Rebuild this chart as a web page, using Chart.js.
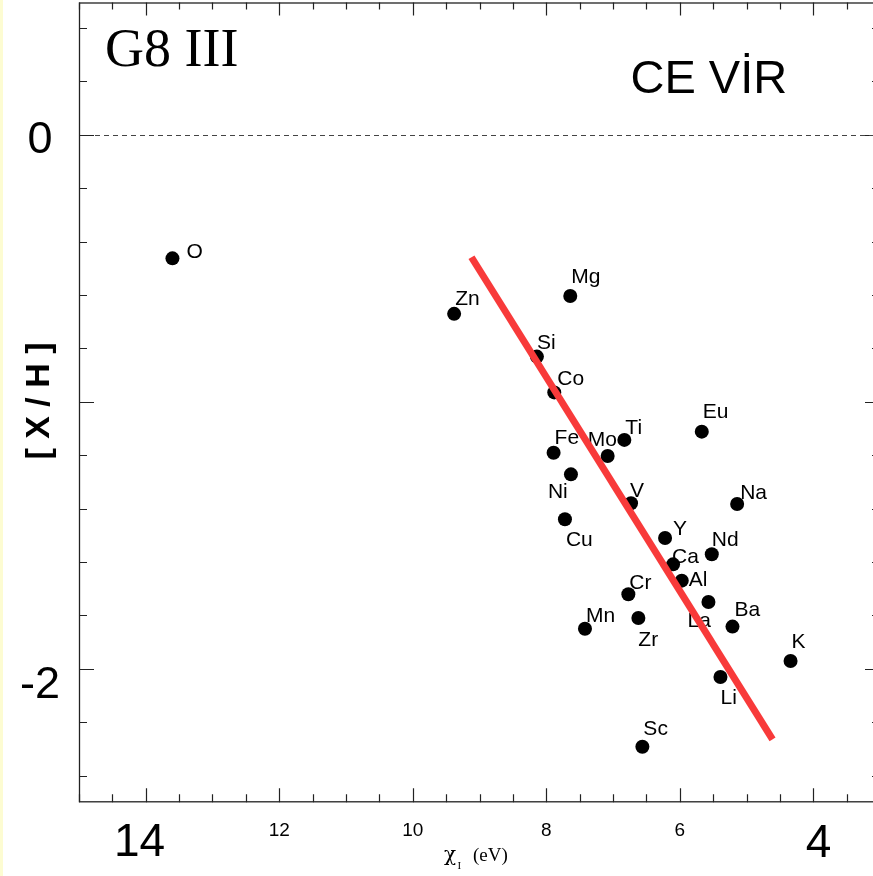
<!DOCTYPE html>
<html><head><meta charset="utf-8">
<script src="https://cdn.jsdelivr.net/npm/chart.js@4.4.0/dist/chart.umd.min.js"></script>
<style>
html,body{margin:0;padding:0;background:#fff;overflow:hidden;width:873px;height:876px}
#wrap{position:absolute;left:0;top:0;width:880px;height:876px}
</style>
</head><body><div id="wrap"><canvas id="c" width="880" height="876"></canvas></div>
<script>
// ---- data ----
const elements   = ['O','Zn','Mg','Si','Co','Eu','Ti','Fe','Mo','Ni','V','Na','Cu','Y','Nd','Ca','Al','Cr','La','Zr','Mn','Ba','K','Li','Sc'];
const ionization = [13.60,9.38,7.64,8.14,7.88,5.67,6.83,7.89,7.08,7.63,6.73,5.14,7.72,6.22,5.52,6.10,5.97,6.77,5.57,6.62,7.42,5.21,4.34,5.39,6.56];
const abundance  = [-0.463,-0.671,-0.604,-0.831,-0.965,-1.112,-1.143,-1.191,-1.203,-1.272,-1.380,-1.383,-1.440,-1.510,-1.571,-1.609,-1.670,-1.721,-1.750,-1.810,-1.850,-1.842,-1.971,-2.031,-2.292];
const fitX = [9.12, 4.61];
const fitY = [-0.459, -2.264];
const xTickLabels = [14, 12, 10, 8, 6, 4];
const yTickLabels = [0, -2];
const starType = 'G8 III';
const starName = 'CE VİR';
const yTitle = '[ X / H ]';

// ---- styling (label offsets in px: [dx to text left, dy to cap centre]) ----
const labelOffsets = {
  O:[14,-7.5], Zn:[1,-16], Mg:[1,-20], Si:[0,-15], Co:[3,-15], Eu:[1,-21], Ti:[1,-13.5],
  Fe:[1,-16], Mo:[-20,-17], Ni:[-23,16], V:[-1,-14], Na:[3,-12.5], Cu:[1,19], Y:[8,-10],
  Nd:[0,-16], Ca:[-1,-9], Al:[7,-2], Cr:[1,-13], La:[-21,17], Zr:[0,20], Mn:[1,-14.7],
  Ba:[2,-17.7], K:[1,-21], Li:[0,19], Sc:[1,-19]
};
const bigX = {14:[-6.25,856], 4:[5.25,856.5]};
const bigY = {0:[0,18], '-2':[0,29.5]};

const decor = {
  id:'decor',
  beforeDatasetsDraw(chart){
    const {ctx, chartArea:a, scales:{x,y}} = chart;
    ctx.save();
    // yellow strip on the left edge
    ctx.fillStyle = '#fdfcd2';
    ctx.fillRect(0,0,3,876);
    // frame
    ctx.strokeStyle = '#222'; ctx.lineWidth = 1.3;
    ctx.strokeRect(a.left+0.5, a.top+0.5, a.right-a.left-1, a.bottom-a.top-1);
    // x ticks
    ctx.lineWidth = 1.2;
    ctx.beginPath();
    for(let k=6;k<=30;k++){
      const v=k/2, px=Math.round(x.getPixelForValue(v))+0.5;
      const major = (k%4===0);
      ctx.moveTo(px,a.bottom); ctx.lineTo(px,a.bottom-(major?14:8));
      ctx.moveTo(px,a.top); ctx.lineTo(px,a.top+(major?13:7));
    }
    // y ticks
    for(let k=-12;k<=2;k++){
      const v=k*0.2, py=Math.round(y.getPixelForValue(v))+0.5;
      const major = (k%5===0);
      ctx.moveTo(a.left,py); ctx.lineTo(a.left+(major?15:8),py);
      ctx.moveTo(a.right,py); ctx.lineTo(a.right-(major?15:8),py);
    }
    ctx.stroke();
    // dashed zero line
    const y0 = Math.round(y.getPixelForValue(0))+0.5;
    ctx.strokeStyle='#444'; ctx.lineWidth=1; ctx.setLineDash([5,4]);
    ctx.beginPath(); ctx.moveTo(a.left+16,y0); ctx.lineTo(a.right,y0); ctx.stroke();
    ctx.setLineDash([]);
    // tick labels
    ctx.fillStyle='#000'; ctx.textAlign='center'; ctx.textBaseline='alphabetic';
    xTickLabels.forEach(v=>{
      const px=x.getPixelForValue(v);
      if(bigX[v]){ ctx.font='46px "Liberation Sans", Arial, sans-serif'; ctx.fillText(String(v), px+bigX[v][0], bigX[v][1]); }
      else { ctx.font='19px "Liberation Sans", Arial, sans-serif'; ctx.fillText(String(v), px, 836.3); }
    });
    ctx.font='45px "Liberation Sans", Arial, sans-serif';
    yTickLabels.forEach(v=>{
      const py=y.getPixelForValue(v); const o=bigY[String(v)];
      ctx.fillText(String(v), 40+o[0], py+o[1]);
    });
    // y title
    ctx.save(); ctx.translate(40,401); ctx.rotate(-Math.PI/2);
    ctx.font='bold 34px "Liberation Sans", Arial, sans-serif'; ctx.textBaseline='middle';
    ctx.fillText(yTitle,0,0); ctx.restore();
    // x title
    ctx.textAlign='left';
    ctx.font='20px "DejaVu Serif", "Liberation Serif", serif'; ctx.fillText('χ',444,861);
    ctx.font='11px "Liberation Serif", "Times New Roman", serif'; ctx.fillText('I',457.5,869);
    ctx.font='19px "Liberation Serif", "Times New Roman", serif'; ctx.fillText('(eV)',473,861);
    // annotations
    ctx.font='54px "Liberation Serif", "Times New Roman", serif'; ctx.fillText(starType,105,65.5);
    ctx.font='47px "Liberation Sans", Arial, sans-serif'; ctx.fillText(starName,630.5,93.3);
    ctx.restore();
  },
  afterDatasetDraw(chart,args){
    if(args.index!==1) return;
    const {ctx} = chart;
    ctx.save();
    ctx.fillStyle='#000'; ctx.font='21px "Liberation Sans", Arial, sans-serif';
    ctx.textAlign='left'; ctx.textBaseline='alphabetic';
    args.meta.data.forEach((pt,i)=>{
      const o = labelOffsets[elements[i]] || [6,-12];
      ctx.fillText(elements[i], pt.x+o[0], pt.y+o[1]+7.5);
    });
    ctx.restore();
  }
};

new Chart(document.getElementById('c').getContext('2d'), {
  type:'scatter',
  data:{datasets:[
    {type:'line', data: fitX.map((v,i)=>({x:v,y:fitY[i]})), borderColor:'#f83a3a', borderWidth:7,
     pointRadius:0, fill:false, borderCapStyle:'butt', order:0},
    {type:'scatter', data: elements.map((e,i)=>({x:ionization[i], y:abundance[i]})),
     backgroundColor:'#000', borderColor:'#000', pointRadius:7, borderWidth:0, order:1}
  ]},
  options:{
    responsive:false, devicePixelRatio:1, animation:false, events:[],
    layout:{autoPadding:false, padding:{left:0,right:0,top:2.5,bottom:0}},
    plugins:{legend:{display:false}, tooltip:{enabled:false}},
    scales:{
      x:{type:'linear', reverse:true, min:3, max:15, ticks:{display:false}, grid:{display:false}, border:{display:false},
         afterFit(s){ s.height = 73.7; }},
      y:{type:'linear', min:-2.5, max:0.495, ticks:{display:false}, grid:{display:false}, border:{display:false},
         afterFit(s){ s.width = 79; }}
    }
  },
  plugins:[decor]
});
</script></body></html>
